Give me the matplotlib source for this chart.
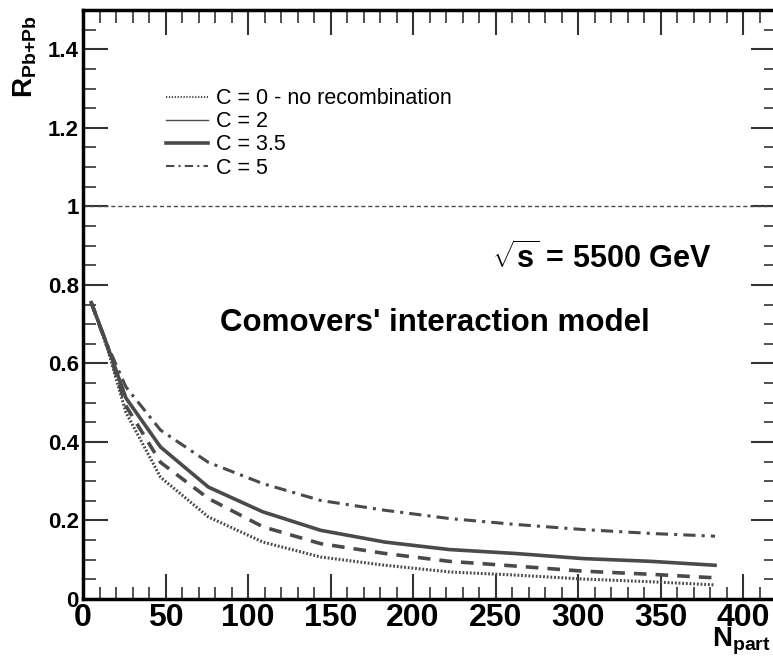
import matplotlib
matplotlib.use('Agg')
import matplotlib.pyplot as plt
from matplotlib.lines import Line2D
from matplotlib.ticker import MultipleLocator

plt.rcParams['font.family'] = ['Liberation Sans', 'DejaVu Sans']
plt.rcParams['mathtext.fontset'] = 'custom'
plt.rcParams['mathtext.rm'] = 'Liberation Sans'
plt.rcParams['mathtext.bf'] = 'Liberation Sans:bold'
plt.rcParams['mathtext.it'] = 'Liberation Sans:italic'

# N_part values and R_PbPb for each recombination strength C
npart = [5, 15, 26, 47, 76, 109, 144, 183, 222, 262, 303, 344, 383]
r_c0 = [0.755, 0.635, 0.475, 0.31, 0.209, 0.145, 0.107, 0.086, 0.069, 0.061, 0.051, 0.044, 0.036]
r_c2 = [0.755, 0.64, 0.492, 0.348, 0.256, 0.184, 0.141, 0.116, 0.096, 0.084, 0.071, 0.063, 0.054]
r_c35 = [0.755, 0.642, 0.512, 0.387, 0.285, 0.222, 0.175, 0.145, 0.126, 0.116, 0.103, 0.096, 0.086]
r_c5 = [0.755, 0.645, 0.54, 0.43, 0.348, 0.294, 0.251, 0.226, 0.205, 0.19, 0.177, 0.167, 0.16]

labels = ['C = 0 - no recombination', 'C = 2', 'C = 3.5', 'C = 5']
col = '#4a4a4a'

fig = plt.figure(figsize=(7.73, 6.59), dpi=100)
ax = fig.add_axes([0.1074, 0.091, 0.8966, 0.8938])

ax.plot(npart, r_c0, color=col, lw=2.2, linestyle=(0, (0.6, 0.6)))
ax.plot(npart, r_c2, color=col, lw=2.6, linestyle=(0, (3.5, 2.5)))
ax.plot(npart, r_c35, color=col, lw=2.6, linestyle='-')
ax.plot(npart, r_c5, color=col, lw=2.2, linestyle=(0, (4, 2, 1, 2)))

ax.axhline(1.0, color=col, lw=1.0, linestyle=(0, (3, 2)))

handles = [
    Line2D([], [], color=col, lw=1.5, linestyle=(0, (0.6, 0.8))),
    Line2D([], [], color=col, lw=1.0, linestyle='-'),
    Line2D([], [], color=col, lw=2.6, linestyle='-'),
    Line2D([], [], color=col, lw=1.5, linestyle=(0, (4, 2, 1, 2))),
]
ax.legend(handles, labels, loc='upper left', bbox_to_anchor=(0.107, 0.882),
          frameon=False, fontsize=15.5, labelspacing=0.1, handlelength=1.95,
          handletextpad=0.4, borderaxespad=0)

ax.text(381, 0.868, r'$\sqrt{\mathbf{s}}$ = 5500 GeV', ha='right', va='center',
        fontsize=22, fontweight='bold')
ax.text(213, 0.703, "Comovers' interaction model", ha='center', va='center',
        fontsize=22.5, fontweight='bold')

ax.set_xlim(0, 420)
ax.set_ylim(0, 1.5)
ax.xaxis.set_major_locator(MultipleLocator(50))
ax.xaxis.set_minor_locator(MultipleLocator(10))
ax.yaxis.set_minor_locator(MultipleLocator(0.05))
ax.set_yticks([0, 0.2, 0.4, 0.6, 0.8, 1.0, 1.2, 1.4])
ax.set_yticklabels(['0', '0.2', '0.4', '0.6', '0.8', '1', '1.2', '1.4'])

ax.tick_params(which='both', direction='in', top=True, right=True, color='#333333')
ax.tick_params(which='major', length=18, width=1.5)
ax.tick_params(which='minor', length=9, width=1.2)
ax.tick_params(axis='x', which='major', labelsize=23, pad=3)
ax.tick_params(axis='y', which='major', labelsize=16, pad=3)
for lab in ax.get_xticklabels() + ax.get_yticklabels():
    lab.set_fontweight('bold')
for sp in ax.spines.values():
    sp.set_linewidth(2.5)

ax.set_ylabel(r'$\mathbf{R_{Pb{+}Pb}}$', fontsize=20, loc='top')
ax.yaxis.set_label_coords(-0.064, 0.99)
ax.set_xlabel(r'$\mathbf{N_{part}}$', fontsize=20, loc='right')
ax.xaxis.set_label_coords(0.992, -0.046)

fig.savefig('out.png', dpi=100)
